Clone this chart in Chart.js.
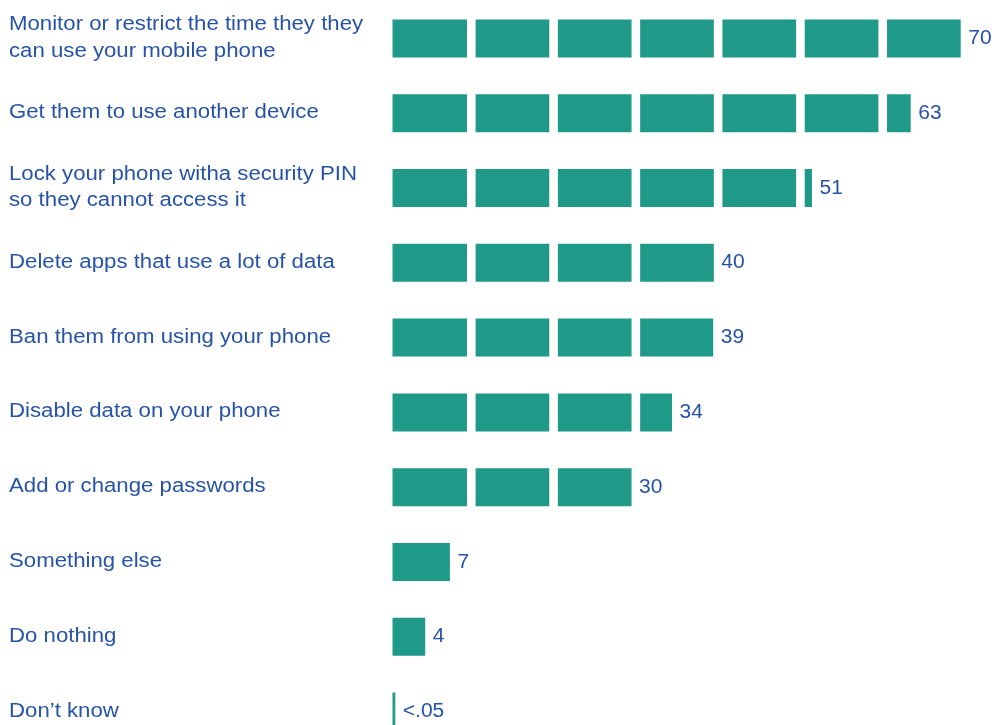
<!DOCTYPE html>
<html>
<head>
<meta charset="utf-8">
<script src="https://cdn.jsdelivr.net/npm/chart.js@4.4.1/dist/chart.umd.min.js"></script>
<style>
  html, body { margin: 0; padding: 0; background: #fff; overflow: hidden; }
  #chart { display: block; }
</style>
</head>
<body>
<canvas id="chart" width="995" height="760"></canvas>
<script>
// Responses, in the order they are listed
const categories = [
  ['Monitor or restrict the time they they', 'can use your mobile phone'],
  'Get them to use another device',
  ['Lock your phone witha security PIN', 'so they cannot access it'],
  'Delete apps that use a lot of data',
  'Ban them from using your phone',
  'Disable data on your phone',
  'Add or change passwords',
  'Something else',
  'Do nothing',
  'Don\u2019t know'
];

// Share of respondents (%)
const values = [70, 63, 51, 40, 39, 34, 30, 7, 4, 0.05];
const valueLabels = ['70', '63', '51', '40', '39', '34', '30', '7', '4', '<.05'];

// Bars are broken into blocks of this many points
const blockSize = 10;

const TEAL = '#1f9a89';
const BLUE = '#2753a7';
const FONT = "'Liberation Sans', Arial, sans-serif";
const GAP = 7.6;
const LINE_HEIGHT = 26.7;

// text is set a little wide, as in the original layout
function wideText(ctx, text, x, y, stretch) {
  ctx.save();
  ctx.translate(x, y);
  ctx.scale(stretch, 1);
  ctx.fillText(text, 0, 0);
  ctx.restore();
}

// White cuts at every block boundary, category names on the left,
// and the value at the end of each bar
const blocksAndLabels = {
  id: 'blocksAndLabels',
  afterDatasetsDraw(chart) {
    const { ctx, chartArea, scales } = chart;
    const x = scales.x;
    ctx.save();
    ctx.fillStyle = '#fff';
    for (let v = blockSize; v <= x.max; v += blockSize) {
      const px = x.getPixelForValue(v);
      ctx.fillRect(px - GAP, chartArea.top, GAP + 1, chartArea.bottom - chartArea.top);
    }

    const meta = chart.getDatasetMeta(0);
    ctx.fillStyle = BLUE;
    ctx.textAlign = 'left';
    ctx.textBaseline = 'alphabetic';
    meta.data.forEach((bar, i) => {
      // category name, one or two lines centred on the bar
      const lines = [].concat(categories[i]);
      ctx.font = '20px ' + FONT;
      lines.forEach((line, j) => {
        const dy = (j - (lines.length - 1) / 2) * LINE_HEIGHT;
        wideText(ctx, line, 9, bar.y + 5 + dy, 1.11);
      });

      // value
      let end = bar.x;
      if (values[i] % blockSize === 0) end -= GAP;
      ctx.font = '20px ' + FONT;
      wideText(ctx, valueLabels[i], end + 7.5, bar.y + 5.5, 1.05);
    });
    ctx.restore();
  }
};

new Chart(document.getElementById('chart'), {
  type: 'bar',
  data: {
    labels: categories,
    datasets: [{
      data: values,
      backgroundColor: TEAL,
      borderWidth: 0,
      barPercentage: 1,
      categoryPercentage: 0.508,
      minBarLength: 3
    }]
  },
  options: {
    indexAxis: 'y',
    responsive: false,
    animation: false,
    devicePixelRatio: 1,
    layout: {
      padding: { left: 392.3, top: 1, bottom: 11, right: 26.7 }
    },
    plugins: {
      legend: { display: false },
      tooltip: { enabled: false }
    },
    scales: {
      x: {
        display: false,
        min: 0,
        max: 70
      },
      y: {
        display: false
      }
    }
  },
  plugins: [blocksAndLabels]
});
</script>
</body>
</html>
